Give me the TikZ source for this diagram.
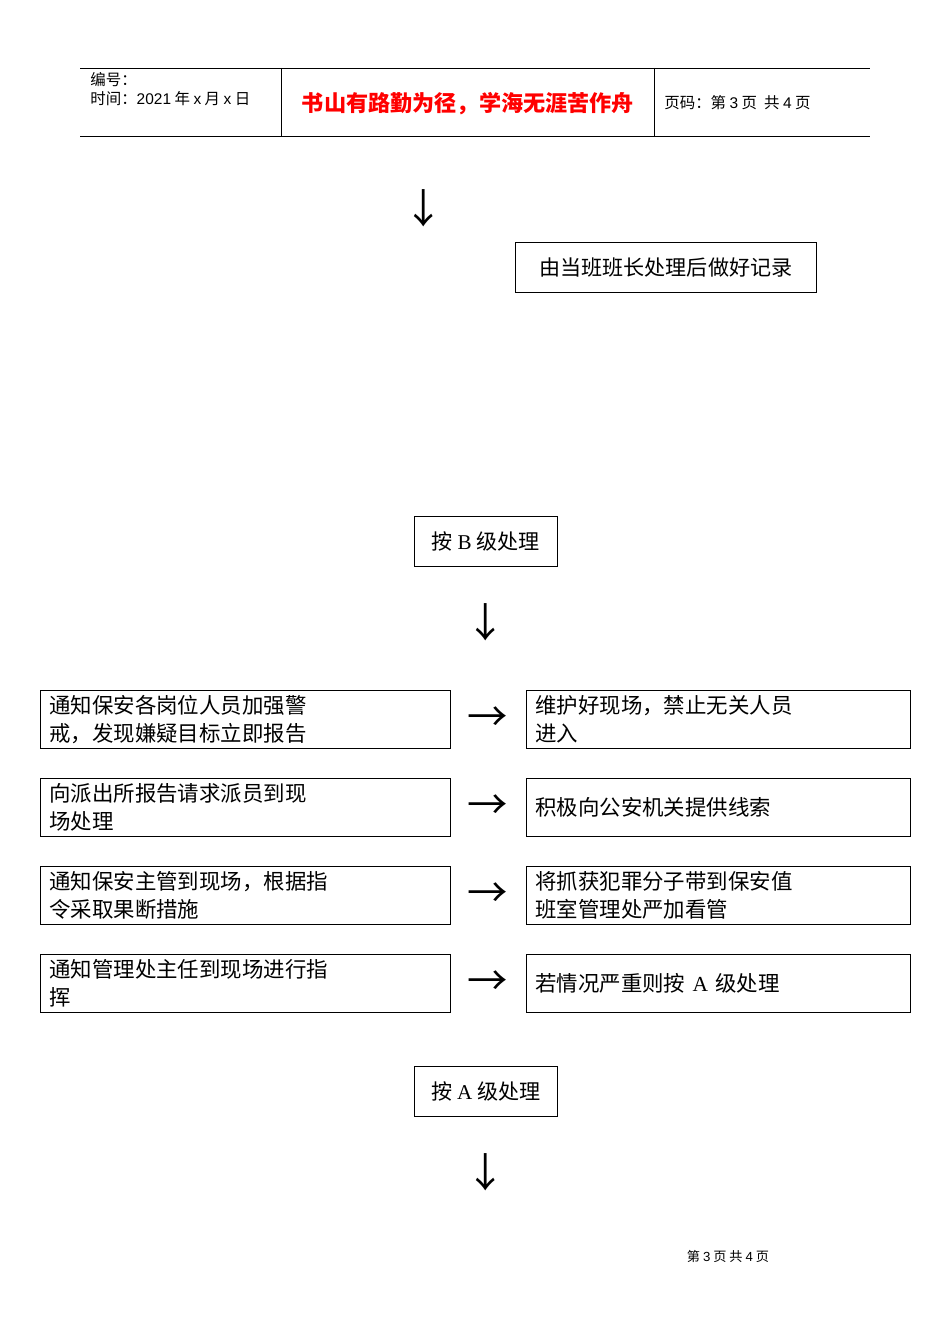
\documentclass[tikz,border=0pt]{standalone}
\usepackage{fontspec}
\setmainfont{Liberation Serif}
\newfontfamily\cjk{Noto Sans CJK SC}
\newfontfamily\hdr{Liberation Sans}
\usetikzlibrary{positioning}
\tikzset{
  box/.style   = {draw, thin, align=left, anchor=north west, inner xsep=0.18cm, inner ysep=0.08cm,
                  text width=#1, minimum height=1.16cm, font=\cjk\fontsize{12.2}{16.2}\selectfont},
  tag/.style   = {draw, thin, anchor=north west, minimum width=2.86cm, minimum height=1cm,
                  font=\cjk\fontsize{12}{14}\selectfont},
  glyph/.style = {font=\cjk\fontsize{23}{23}\selectfont, inner sep=0}
}
\begin{document}
\begin{tikzpicture}[x=0.02cm,y=-0.02cm]
  \useasboundingbox (0,0) rectangle (950,1344);
  % header
  \draw[thin] (80,68) -- (870,68);
  \draw[thin] (80,136) -- (870,136);
  \draw[thin] (281,68) -- (281,136);
  \draw[thin] (654,68) -- (654,136);
  \node[anchor=west, inner sep=0, font=\cjk\fontsize{8.8}{10}\selectfont] (hno) at (90,80) {编号：};
  \node[anchor=west, inner sep=0, font=\cjk\fontsize{8.8}{10}\selectfont] (htime) at (90,99) {时间：{\hdr 2021} 年 {\hdr x} 月 {\hdr x} 日};
  \node[inner sep=0, text=red, font=\cjk\bfseries\fontsize{12.6}{14}\selectfont] (htitle) at (468,104) {书山有路勤为径，学海无涯苦作舟};
  \node[anchor=west, inner sep=0, font=\cjk\fontsize{8.8}{10}\selectfont] (hpage) at (664,103) {页码：第 {\hdr 3} 页\ \ 共 {\hdr 4} 页};

  % top part
  \node[glyph] (d0) at (424,208) {↓};
  \node[draw, thin, anchor=north west, minimum width=6.02cm, minimum height=1cm,
        font=\cjk\fontsize{12}{14}\selectfont] (rec) at (515,242) {由当班班长处理后做好记录};

  % level B
  \node[tag] (levB) at (414,516) {按 {\rmfamily B} 级处理};
  \node[glyph] (d1) at (486,622) {↓};

  \node[box=7.84cm] (l1) at (40,690) {通知保安各岗位人员加强警\\戒，发现嫌疑目标立即报告};
  \node[box=7.32cm] (r1) at (526,690) {维护好现场，禁止无关人员\\进入};
  \node[box=7.84cm] (l2) at (40,778) {向派出所报告请求派员到现\\场处理};
  \node[box=7.32cm] (r2) at (526,778) {积极向公安机关提供线索};
  \node[box=7.84cm] (l3) at (40,866) {通知保安主管到现场，根据指\\令采取果断措施};
  \node[box=7.32cm] (r3) at (526,866) {将抓获犯罪分子带到保安值\\班室管理处严加看管};
  \node[box=7.84cm] (l4) at (40,954) {通知管理处主任到现场进行指\\挥};
  \node[box=7.32cm] (r4) at (526,954) {若情况严重则按 {\rmfamily A} 级处理};
  \foreach \y [count=\i] in {719,807,895,983}
    \node[glyph] (a\i) at (488,\y) {→};

  % level A
  \node[tag] (levA) at (414,1066) {按 {\rmfamily A} 级处理};
  \node[glyph] (d2) at (486,1172) {↓};

  % footer
  \node[font=\cjk\fontsize{7.5}{9}\selectfont] (foot) at (728,1256) {第\ {\hdr 3}\ 页\ 共\ {\hdr 4}\ 页};
\end{tikzpicture}
\end{document}
